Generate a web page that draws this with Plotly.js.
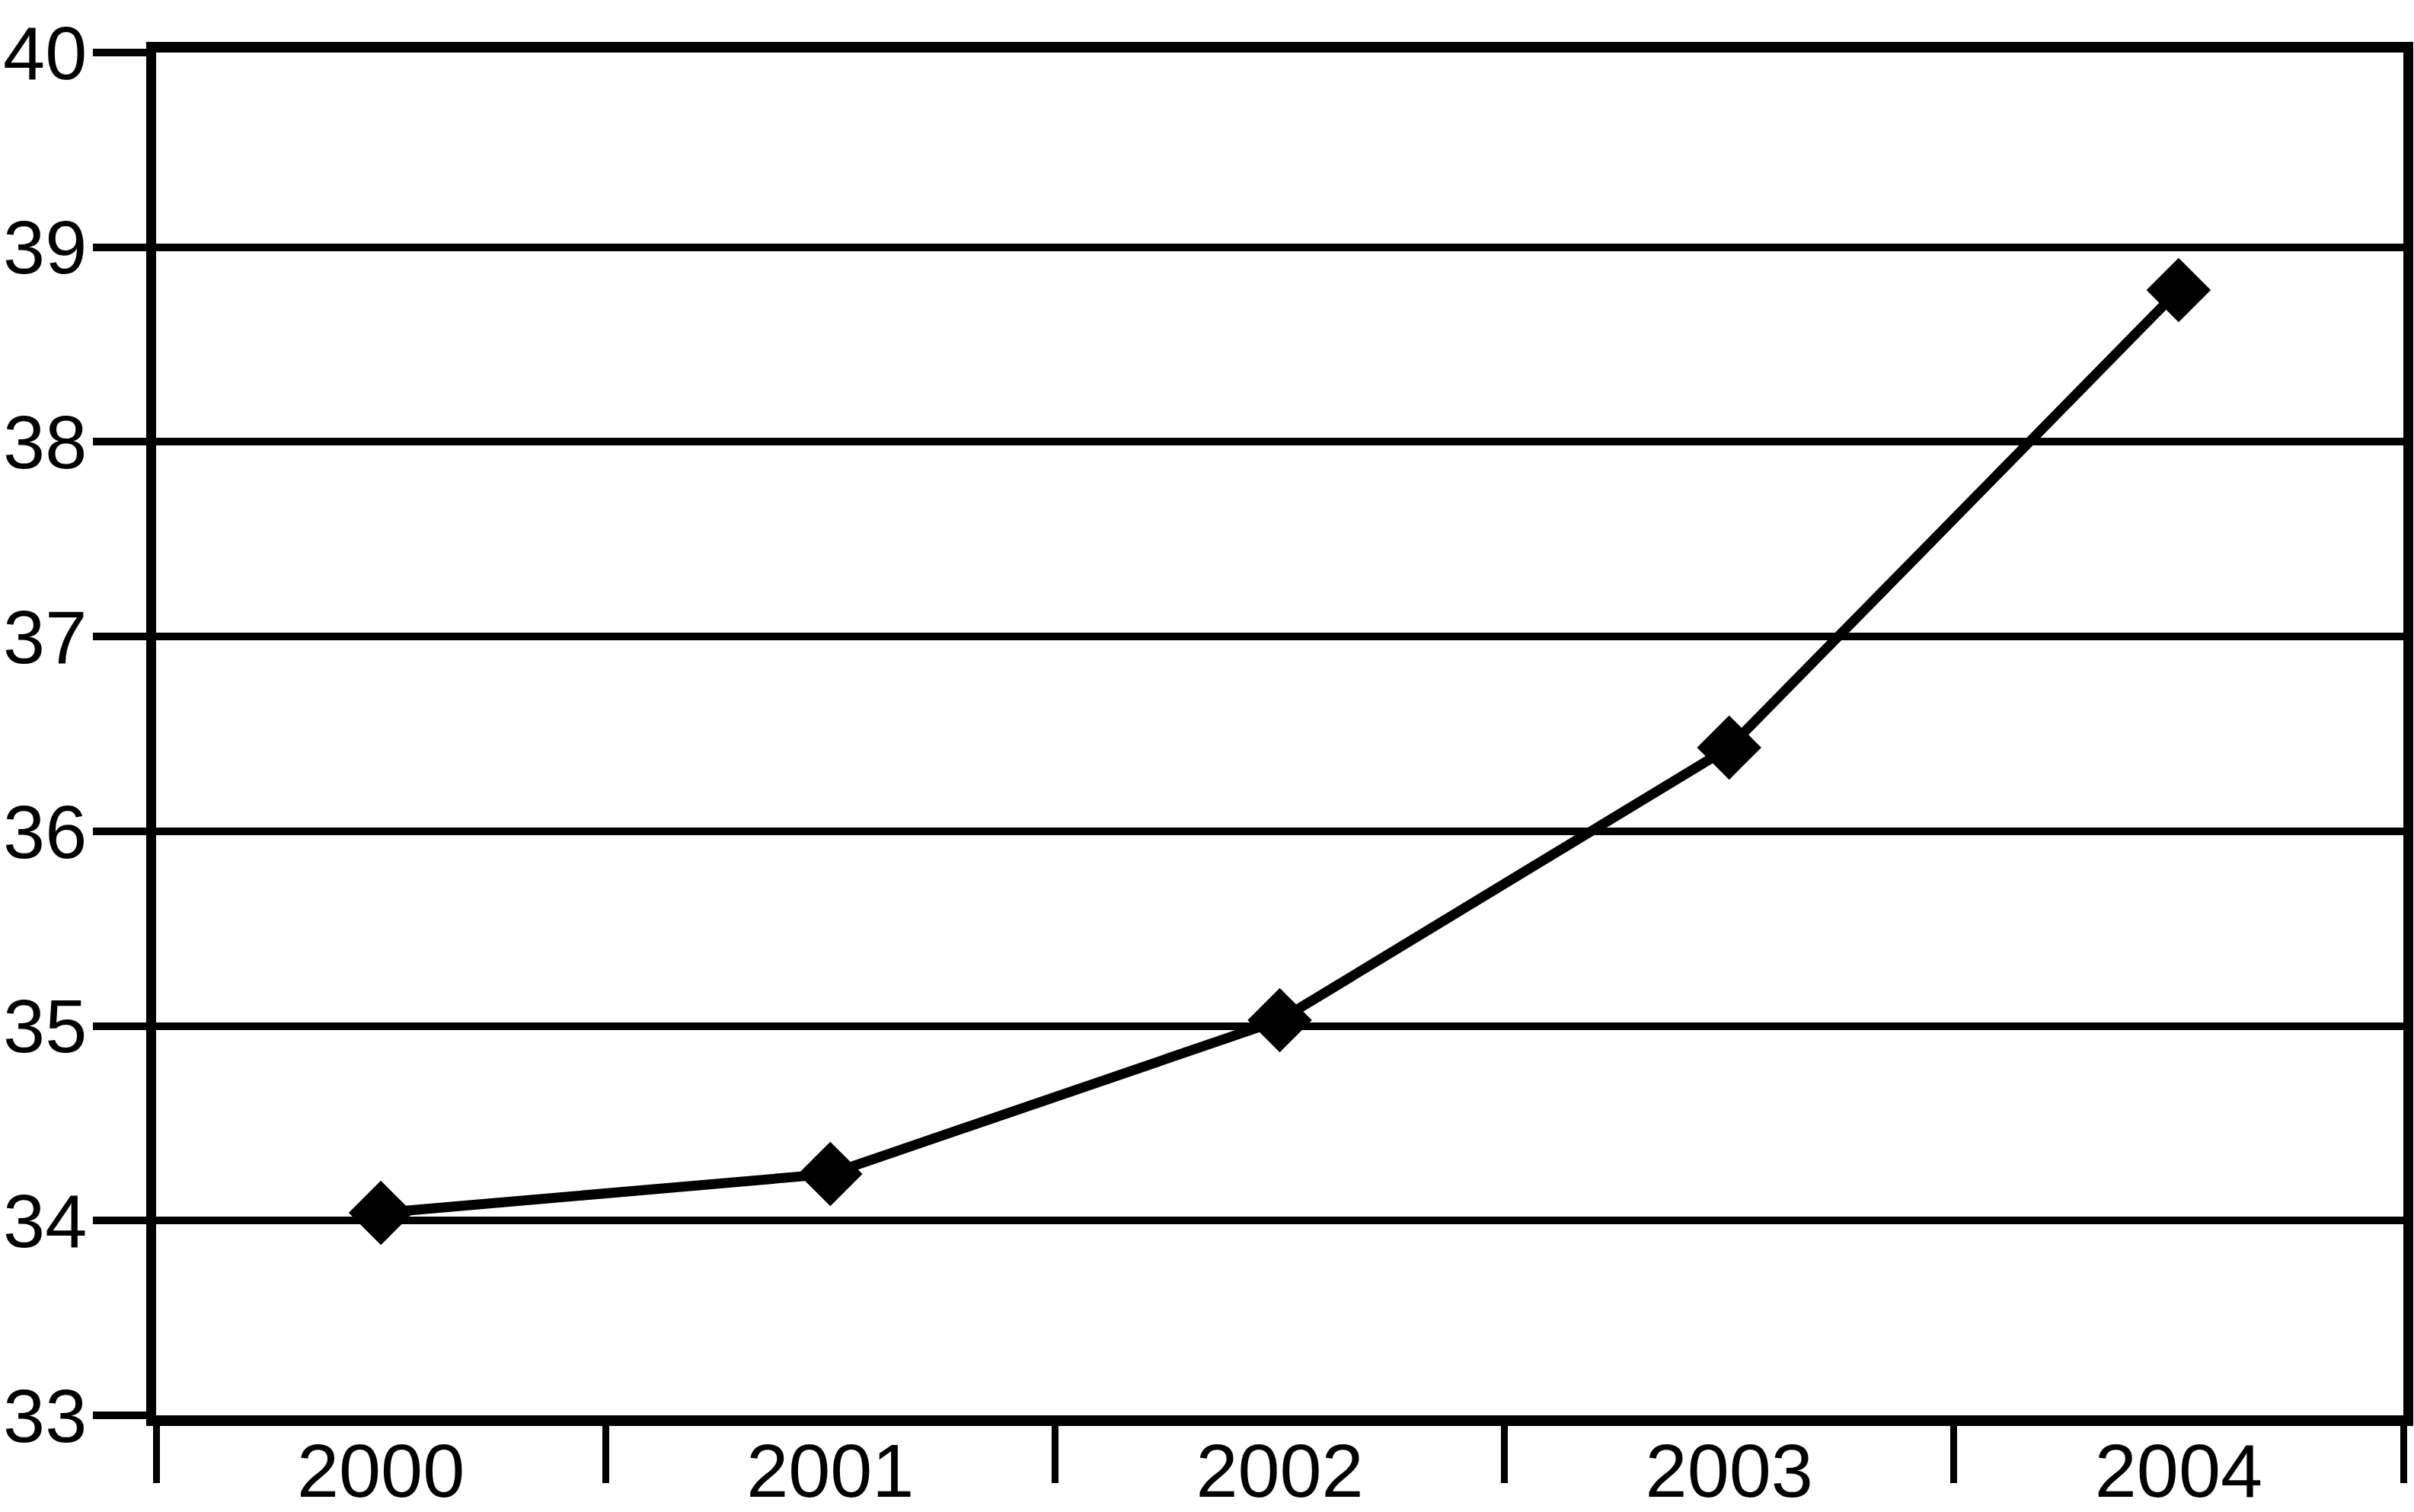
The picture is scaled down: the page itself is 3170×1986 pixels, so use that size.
<!DOCTYPE html>
<html>
<head>
<meta charset="utf-8">
<script src="https://cdn.plot.ly/plotly-3.0.1.min.js"></script>
<style>html,body{margin:0;padding:0;background:#fff;}#chart{width:3170px;height:1986px;}</style>
</head>
<body>
<div id="chart"></div>
<script>
const years = ['2000', '2001', '2002', '2003', '2004'];
const values = [34.04, 34.24, 35.03, 36.43, 38.78];
const yTicks = [33, 34, 35, 36, 37, 38, 39, 40];

const font = {family: 'Liberation Sans, Arial, sans-serif', size: 99, color: '#000'};

const lineTrace = {
  type: 'scatter',
  mode: 'lines+markers',
  x: years,
  y: values,
  line: {color: '#000', width: 13},
  marker: {symbol: 'diamond', size: 65, color: '#000'},
  cliponaxis: false,
  showlegend: false
};

const layout = {
  width: 3170,
  height: 1986,
  paper_bgcolor: '#fff',
  plot_bgcolor: '#fff',
  margin: {l: 205, r: 14, t: 69, b: 127, pad: 0},
  font: font,
  xaxis: {
    type: 'category',
    range: [-0.5, 4.5],
    tickson: 'boundaries',
    ticks: 'outside',
    ticklen: 75,
    tickwidth: 9,
    tickcolor: '#000',
    showline: true,
    linewidth: 14,
    linecolor: '#000',
    mirror: true,
    showgrid: false,
    zeroline: false,
    tickfont: font,
    ticklabelstandoff: -26
  },
  yaxis: {
    range: [33, 40],
    tickvals: yTicks,
    ticktext: yTicks.map(String),
    ticks: 'outside',
    ticklen: 70,
    tickwidth: 10,
    tickcolor: '#000',
    showline: true,
    linewidth: 13,
    linecolor: '#000',
    mirror: true,
    showgrid: true,
    gridcolor: '#000',
    gridwidth: 10,
    zeroline: false,
    tickfont: font,
    ticklabelstandoff: -12
  }
};

Plotly.newPlot('chart', [lineTrace], layout, {staticPlot: true, displayModeBar: false});
</script>
</body>
</html>
